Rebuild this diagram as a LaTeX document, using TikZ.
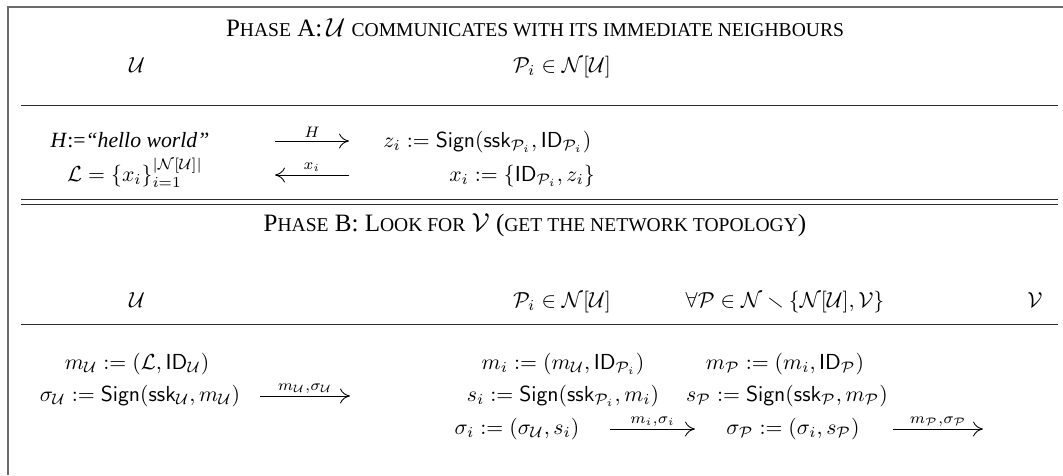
\documentclass[tikz,border=0pt]{standalone}
\usepackage{amsmath,amssymb}
\usepackage[no-math]{fontspec}
\setmainfont{Liberation Serif}
\usepackage{xcolor}
\definecolor{cRule}{HTML}{2B2B2B}
\definecolor{cFrame}{HTML}{6A6A6A}
\usepackage{tikz}
\usetikzlibrary{positioning,arrows.meta}
\newcommand{\phsc}[1]{{\fontsize{9}{11}\selectfont\MakeUppercase{#1}}}
\newcommand{\sgn}{\mathsf{Sign}}
\newcommand{\ssk}{\mathsf{ssk}}
\newcommand{\idf}{\mathsf{ID}}
\tikzset{
  node-title/.style={inner sep=0pt,anchor=base,font=\fontsize{11.5}{14}\selectfont},
  node-cell/.style={inner sep=0pt,anchor=base},
  node-label/.style={above,inner sep=1.2pt},
  arrow-msg/.style={-{Computer Modern Rightarrow[length=1.6mm,width=2.4mm]},line width=0.4pt},
  rule-line/.style={line width=0.45pt,draw=cRule},
  frame-line/.style={line width=0.7pt,draw=cFrame},
}

\begin{document}
\begin{tikzpicture}[x=0.46pt,y=-0.46pt]
  \useasboundingbox (0,0) rectangle (1063,475);
  \draw[frame-line] (1063,7) -- (8,7) -- (8,475);

  % phase A
  \node[node-title] (title-a) at (535,36)
    {P\phsc{hase} A:\,$\mathcal{U}$ \phsc{communicates with its immediate neighbours}};
  \node[node-cell] (a-u) at (137,72) {$\mathcal{U}$};
  \node[node-cell] (a-p) at (562,72) {$\mathcal{P}_i \in \mathcal{N}[\mathcal{U}]$};
  \draw[rule-line] (21,105) -- (1058,105);

  \node[node-cell] (hello) at (130,147) {\textit{H}:=\textit{“hello world”}};
  \node[node-cell,anchor=base west] (zi) at (383,147)
    {$z_i := \sgn(\ssk_{\mathcal{P}_i}, \idf_{\mathcal{P}_i})$};
  \node[node-cell] (list) at (135,181)
    {$\mathcal{L} = \{x_i\}_{i=1}^{|\mathcal{N}[\mathcal{U}]|}$};
  \node[node-cell] (xi) at (522,181) {$x_i := \{\idf_{\mathcal{P}_i}, z_i\}$};

  \coordinate (h-from) at (275,141);
  \coordinate (h-to) at (349,141);
  \coordinate (x-from) at (349,175);
  \coordinate (x-to) at (275,175);
  \draw[arrow-msg] (h-from) -- node[node-label]{$\scriptstyle H$} (h-to);
  \draw[arrow-msg] (x-from) -- node[node-label]{$\scriptstyle x_i$} (x-to);

  \draw[rule-line] (21,199) -- (1058,199);
  \draw[rule-line] (21,204) -- (1058,204);

  % phase B
  \node[node-title] (title-b) at (535,231)
    {P\phsc{hase} B: L\phsc{ook for} $\mathcal{V}$ (\phsc{get the network topology})};
  \node[node-cell] (b-u) at (137,307) {$\mathcal{U}$};
  \node[node-cell] (b-p) at (562,307) {$\mathcal{P}_i \in \mathcal{N}[\mathcal{U}]$};
  \node[node-cell] (b-all) at (785,307)
    {$\forall\mathcal{P} \in \mathcal{N} \smallsetminus \{\mathcal{N}[\mathcal{U}], \mathcal{V}\}$};
  \node[node-cell] (b-v) at (1035,307) {$\mathcal{V}$};
  \draw[rule-line] (21,324) -- (1058,324);

  \node[node-cell] (m-u) at (137,369) {$m_{\mathcal{U}} := (\mathcal{L}, \idf_{\mathcal{U}})$};
  \node[node-cell] (s-u) at (140,401)
    {$\sigma_{\mathcal{U}} := \sgn(\ssk_{\mathcal{U}}, m_{\mathcal{U}})$};
  \node[node-cell] (m-i) at (563,369) {$m_i := (m_{\mathcal{U}}, \idf_{\mathcal{P}_i})$};
  \node[node-cell] (s-i) at (563,401) {$s_i := \sgn(\ssk_{\mathcal{P}_i}, m_i)$};
  \node[node-cell] (sig-i) at (517,434) {$\sigma_i := (\sigma_{\mathcal{U}}, s_i)$};
  \node[node-cell] (m-p) at (785,369) {$m_{\mathcal{P}} := (m_i, \idf_{\mathcal{P}})$};
  \node[node-cell] (s-p) at (787,401) {$s_{\mathcal{P}} := \sgn(\ssk_{\mathcal{P}}, m_{\mathcal{P}})$};
  \node[node-cell] (sig-p) at (793,434) {$\sigma_{\mathcal{P}} := (\sigma_i, s_{\mathcal{P}})$};

  \coordinate (u-from) at (260,396);
  \coordinate (u-to) at (350,396);
  \coordinate (i-from) at (610,429);
  \coordinate (i-to) at (695,429);
  \coordinate (p-from) at (893,429);
  \coordinate (p-to) at (983,429);
  \draw[arrow-msg] (u-from) -- node[node-label]{$\scriptstyle m_{\mathcal{U}},\sigma_{\mathcal{U}}$} (u-to);
  \draw[arrow-msg] (i-from) -- node[node-label]{$\scriptstyle m_i,\sigma_i$} (i-to);
  \draw[arrow-msg] (p-from) -- node[node-label]{$\scriptstyle m_{\mathcal{P}},\sigma_{\mathcal{P}}$} (p-to);
\end{tikzpicture}
\end{document}
